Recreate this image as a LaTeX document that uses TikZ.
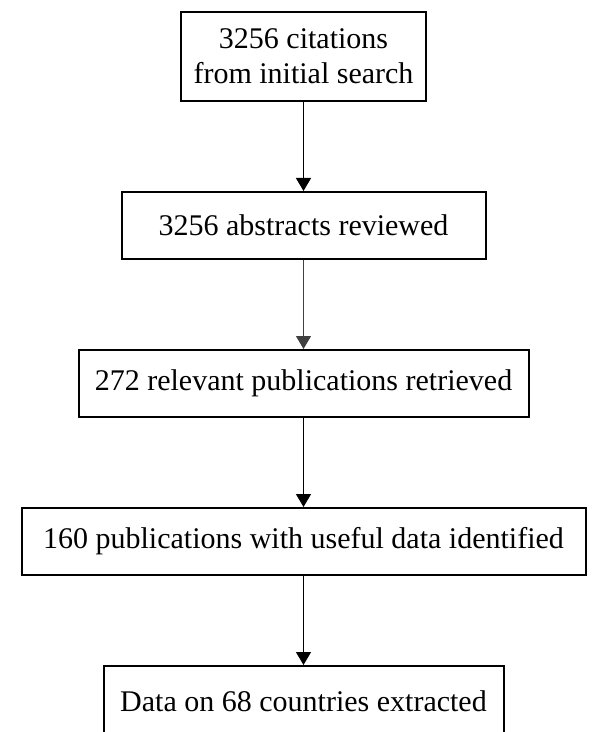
\documentclass[tikz,border=0pt]{standalone}
\usepackage{fontspec}
\setmainfont{Liberation Serif}
\usetikzlibrary{positioning, arrows.meta}

\begin{document}
\begin{tikzpicture}[x=0.5pt,y=-0.5pt,
			box/.style={draw,line width=1pt,inner sep=0pt,align=center,
				minimum height=33.5pt,font=\fontsize{15}{17.5}\selectfont},
			flow/.style={line width=0.7pt,-{Triangle[width=7.5pt,length=6.5pt]}}]
		\useasboundingbox (0,0) rectangle (598,732);
		\clip (0,0) rectangle (598,732);
		\node[box,minimum width=122.5pt,minimum height=44.5pt] (cit) at (303.5,56.5)
		{3256 citations\\from initial search};
		\node[box,below=44.5pt of cit,minimum width=182pt] (abs) {3256 abstracts reviewed};
		\node[box,below=44.5pt of abs,minimum width=225pt] (rel) {272 relevant publications retrieved};
		\node[box,below=44.5pt of rel,minimum width=282pt] (use) {160 publications with useful data identified};
		\node[box,below=44.5pt of use,minimum width=200pt,minimum height=35pt] (dat) {Data on 68 countries extracted};
		\foreach \X/\Y in {cit/abs,rel/use,use/dat}
		{\draw[flow] (\X) -- (\Y);}
		\draw[flow,line width=0.5pt,black!75] (abs) -- (rel);
	\end{tikzpicture}
\end{document}
